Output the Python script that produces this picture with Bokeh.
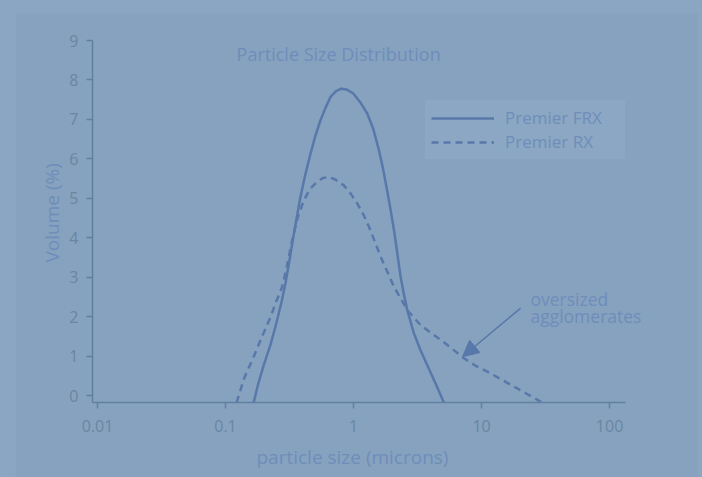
from bokeh.plotting import figure
from bokeh.models import (Range1d, FixedTicker, Legend, LegendItem, Arrow,
                          NormalHead, Label, Title, GlobalInlineStyleSheet)
from bokeh.embed import file_html
from bokeh.resources import INLINE

# ---- data ----
frx_size = [0.166, 0.18, 0.20, 0.225, 0.25, 0.275, 0.294, 0.315, 0.332, 0.355,
            0.385, 0.42, 0.461, 0.505, 0.552, 0.605, 0.661, 0.73, 0.80, 0.88,
            0.96, 1.0, 1.12, 1.28, 1.43, 1.58, 1.70, 1.83, 1.95, 2.07,
            2.2, 2.33, 2.48, 2.63, 2.95, 3.33, 3.8, 4.4, 5.08]
frx_vol = [-0.17, 0.3, 0.8, 1.3, 1.85, 2.4, 2.85, 3.4, 3.86, 4.4,
           5.04, 5.6, 6.13, 6.6, 6.98, 7.3, 7.57, 7.72, 7.78, 7.76,
           7.69, 7.65, 7.45, 7.15, 6.75, 6.22, 5.75, 5.2, 4.7, 4.2,
           3.6, 3.02, 2.55, 2.17, 1.6, 1.16, 0.75, 0.29, -0.17]

rx_size = [0.122, 0.14, 0.166, 0.19, 0.225, 0.25, 0.277, 0.30, 0.332, 0.365,
           0.409, 0.46, 0.52, 0.58, 0.64, 0.72, 0.84, 0.95, 1.07, 1.2,
           1.32, 1.47, 1.63, 1.85, 2.07, 2.35, 2.63, 3.34, 4.0, 4.79,
           6.0, 7.28, 9.0, 11.1, 14.0, 16.9, 22.0, 29.8]
rx_vol = [-0.17, 0.45, 0.99, 1.45, 2.0, 2.4, 2.76, 3.25, 3.94, 4.5,
          4.95, 5.25, 5.42, 5.52, 5.54, 5.48, 5.33, 5.12, 4.87, 4.58,
          4.28, 3.9, 3.52, 3.12, 2.76, 2.45, 2.17, 1.79, 1.6, 1.42,
          1.17, 0.95, 0.76, 0.61, 0.43, 0.28, 0.07, -0.17]

series_names = ["Premier FRX", "Premier RX"]
x_ticks = [0.01, 0.1, 1, 10, 100]
x_tick_labels = ["0.01", "0.1", "1", "10", "100"]
y_ticks = [0, 1, 2, 3, 4, 5, 6, 7, 8, 9]
x_axis_extent = (0.00914, 133)

title_text = "Particle Size Distribution"
x_label = "particle size (microns)"
y_label = "Volume (%)"
note_lines = ["oversized", "agglomerates"]
note_x = [24.1, 24.1]
note_y = [2.45, 2.03]
arrow_from = [20.2, 2.22]
arrow_to = [7.1, 0.99]

# ---- style ----
BG = "#86a2bf"
PAGE_BG = "#8ba6c2"
LEG_BG = "#8ba7c3"
LINE_C = "#5878aa"
AXIS_C = "#61809f"
TICK_TXT = "#6b85a2"
TXT_C = "#6f8dba"
FONT = "Open Sans"

p = figure(width=683, height=464, x_axis_type="log",
           x_range=Range1d(0.00914, 250), y_range=Range1d(-0.17, 9),
           output_backend="svg", toolbar_location=None,
           min_border_left=77, min_border_right=38,
           min_border_top=27, min_border_bottom=74,
           background_fill_color=BG, border_fill_color=BG,
           outline_line_color=None)
p.stylesheets = [GlobalInlineStyleSheet(
    css="body{background-color:%s;margin:13px 0 0 15px;overflow:hidden;}" % PAGE_BG)]
p.grid.visible = False

r1 = p.line(frx_size, frx_vol, line_color=LINE_C, line_width=2.5)
r2 = p.line(rx_size, rx_vol, line_color=LINE_C, line_width=2.5, line_dash="7 5")

for ax in (p.xaxis[0], p.yaxis[0]):
    ax.axis_line_color = AXIS_C
    ax.axis_line_width = 1.5
    ax.major_tick_line_color = AXIS_C
    ax.major_tick_line_width = 1.5
    ax.major_tick_out = 6
    ax.major_tick_in = 0
    ax.minor_tick_line_color = None
    ax.major_label_text_font = FONT
    ax.major_label_text_font_size = "16px"
    ax.major_label_text_color = TICK_TXT

p.xaxis.bounds = x_axis_extent
p.xaxis.ticker = FixedTicker(ticks=x_ticks)
p.xaxis.major_label_overrides = dict(zip(x_ticks, x_tick_labels))
p.yaxis.ticker = FixedTicker(ticks=y_ticks)
p.xaxis.major_label_standoff = 11
p.yaxis.major_label_standoff = 8

# axis titles, placed as side titles so they line up with the reference
p.add_layout(Title(text=x_label, align="left", offset=164, standoff=15,
                   text_font=FONT, text_font_size="19px",
                   text_font_style="normal", text_color=TXT_C), "below")
p.add_layout(Title(text=y_label, align="left", offset=140, standoff=3,
                   text_font=FONT, text_font_size="19px",
                   text_font_style="normal", text_color=TXT_C), "left")

legend = Legend(items=[LegendItem(label=series_names[0], renderers=[r1]),
                       LegendItem(label=series_names[1], renderers=[r2])],
                location=(333, 243), orientation="vertical",
                glyph_width=63, glyph_height=20, label_width=114, label_height=20,
                label_standoff=11, padding=6, spacing=1, margin=0,
                label_text_font=FONT, label_text_font_size="17px",
                label_text_color=TXT_C,
                background_fill_color=LEG_BG, background_fill_alpha=1.0,
                border_line_color=LEG_BG, border_line_alpha=0.0)
p.add_layout(legend)

p.add_layout(Label(x=0.122, y=8.66, text=title_text, text_font=FONT,
                   text_font_size="18px", text_color=TXT_C,
                   text_baseline="alphabetic"))

for tx, ty, tt in zip(note_x, note_y, note_lines):
    p.add_layout(Label(x=tx, y=ty, text=tt, text_font=FONT,
                       text_font_size="17.5px", text_color=TXT_C,
                       text_baseline="alphabetic", text_align="left"))

p.add_layout(Arrow(end=NormalHead(size=16, fill_color=LINE_C, line_color=LINE_C),
                   x_start=arrow_from[0], y_start=arrow_from[1],
                   x_end=arrow_to[0], y_end=arrow_to[1],
                   line_color=LINE_C, line_width=1.5))

open("out.html", "w").write(file_html(p, INLINE))
